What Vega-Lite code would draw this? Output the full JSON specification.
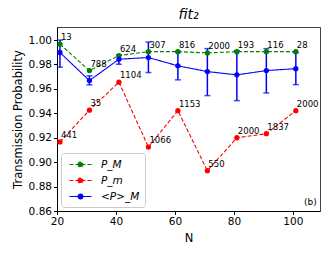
{
  "$schema": "https://vega.github.io/schema/vega-lite/v6.json",
  "autosize": {"type": "none"},
  "padding": {"left": 57, "top": 27, "right": 12, "bottom": 45},
  "width": 263,
  "height": 184,
  "title": {"text": "fit₂", "fontStyle": "italic", "fontSize": 14, "font": "DejaVu Sans", "fontWeight": "normal", "offset": 5, "color": "black"},
  "datasets": {
    "main": [
      {"series": "P_M", "N": 21, "P": 0.9967, "n": 13},
      {"series": "P_M", "N": 31, "P": 0.975, "n": 788},
      {"series": "P_M", "N": 41, "P": 0.9873, "n": 624},
      {"series": "P_M", "N": 51, "P": 0.9905, "n": 307},
      {"series": "P_M", "N": 61, "P": 0.9905, "n": 816},
      {"series": "P_M", "N": 71, "P": 0.9895, "n": 2000},
      {"series": "P_M", "N": 81, "P": 0.9905, "n": 193},
      {"series": "P_M", "N": 91, "P": 0.9905, "n": 116},
      {"series": "P_M", "N": 101, "P": 0.9905, "n": 28},
      {"series": "P_m", "N": 21, "P": 0.9166, "n": 441},
      {"series": "P_m", "N": 31, "P": 0.9426, "n": 35},
      {"series": "P_m", "N": 41, "P": 0.9655, "n": 1104},
      {"series": "P_m", "N": 51, "P": 0.9124, "n": 1066},
      {"series": "P_m", "N": 61, "P": 0.9422, "n": 1153},
      {"series": "P_m", "N": 71, "P": 0.893, "n": 550},
      {"series": "P_m", "N": 81, "P": 0.920, "n": 2000},
      {"series": "P_m", "N": 91, "P": 0.9233, "n": 1837},
      {"series": "P_m", "N": 101, "P": 0.9422, "n": 2000},
      {"series": "<P>_M", "N": 21, "P": 0.9898, "lo": 0.9778, "hi": 1.0},
      {"series": "<P>_M", "N": 31, "P": 0.9668, "lo": 0.9633, "hi": 0.9707},
      {"series": "<P>_M", "N": 41, "P": 0.9843, "lo": 0.9802, "hi": 0.9879},
      {"series": "<P>_M", "N": 51, "P": 0.9857, "lo": 0.9734, "hi": 0.9984},
      {"series": "<P>_M", "N": 61, "P": 0.9789, "lo": 0.9674, "hi": 0.9906},
      {"series": "<P>_M", "N": 71, "P": 0.9742, "lo": 0.9545, "hi": 0.993},
      {"series": "<P>_M", "N": 81, "P": 0.9715, "lo": 0.9504, "hi": 0.9914},
      {"series": "<P>_M", "N": 91, "P": 0.975, "lo": 0.9567, "hi": 0.993},
      {"series": "<P>_M", "N": 101, "P": 0.9766, "lo": 0.9635, "hi": 0.9897}
    ],
    "note": [{"N": 108.1, "P": 0.8649, "t": "(b)"}]
  },
  "data": {"name": "main"},
  "encoding": {
    "x": {"field": "N", "type": "quantitative", "scale": {"domain": [20, 109.2], "nice": false, "zero": false},
      "axis": {"values": [20, 40, 60, 80, 100], "title": "N", "titlePadding": 5, "labelFlush": false}},
    "y": {"field": "P", "type": "quantitative", "scale": {"domain": [0.86, 1.0107], "nice": false, "zero": false},
      "axis": {"values": [0.86, 0.88, 0.9, 0.92, 0.94, 0.96, 0.98, 1.0], "format": ".2f", "title": "Transmission Probability", "titlePadding": 5, "labelFlush": false}}
  },
  "layer": [
    {
      "mark": {"type": "line"},
      "encoding": {
        "color": {"field": "series", "type": "nominal", "scale": {"domain": ["P_M", "P_m", "<P>_M"], "range": ["#008000", "#ff0000", "#0000ff"]}, "legend": {"title": null}},
        "strokeDash": {"field": "series", "type": "nominal", "scale": {"domain": ["P_M", "P_m", "<P>_M"], "range": [[4, 2], [4, 2], [1, 0]]}, "legend": {"title": null}},
        "strokeWidth": {"field": "series", "type": "nominal", "scale": {"domain": ["P_M", "P_m", "<P>_M"], "range": [1.1, 1.1, 1.8]}, "legend": null}
      }
    },
    {
      "transform": [{"filter": "datum.series === '<P>_M'"}],
      "mark": {"type": "errorbar", "ticks": {"size": 6}, "color": "#0000ff", "thickness": 1.5},
      "encoding": {
        "y": {"field": "lo", "type": "quantitative"},
        "y2": {"field": "hi"}
      }
    },
    {
      "mark": {"type": "point", "filled": true, "opacity": 1, "size": 28},
      "encoding": {
        "color": {"field": "series", "type": "nominal"}
      }
    },
    {
      "transform": [{"filter": "datum.series !== '<P>_M'"}],
      "mark": {"type": "text", "align": "left", "baseline": "alphabetic", "dx": 1, "dy": -4, "fontSize": 8.5, "font": "DejaVu Sans", "color": "black"},
      "encoding": {"text": {"field": "n", "type": "nominal"}}
    },
    {
      "data": {"name": "note"},
      "mark": {"type": "text", "align": "right", "baseline": "alphabetic", "fontSize": 9, "font": "DejaVu Sans", "color": "black"},
      "encoding": {"text": {"field": "t", "type": "nominal"}}
    }
  ],
  "config": {
    "view": {"stroke": "#444", "strokeWidth": 1},
    "axis": {"grid": false, "domainColor": "black", "tickColor": "black", "tickSize": 3.5, "labelFont": "DejaVu Sans", "labelFontSize": 10.5, "labelColor": "black", "labelPadding": 2, "titleFont": "DejaVu Sans", "titleFontSize": 11.5, "titleFontWeight": "normal", "titleColor": "black"},
    "legend": {
      "orient": "bottom-left", "offset": 4, "padding": 5,
      "fillColor": "white", "strokeColor": "#cccccc", "cornerRadius": 3,
      "symbolType": "M-2,0L2,0M-0.45,0A0.45,0.45 0 1,1 0.45,0A0.45,0.45 0 1,1 -0.45,0",
      "symbolSize": 121, "symbolStrokeWidth": 1.2, "symbolOffset": 8,
      "labelFont": "DejaVu Sans", "labelFontSize": 10.5, "labelFontStyle": "italic", "labelOffset": 14, "labelColor": "black",
      "rowPadding": 4,
      "encode": {"symbols": {"update": {"fill": {"scale": "color", "field": "value"}, "stroke": {"scale": "color", "field": "value"}}}}
    }
  }
}
